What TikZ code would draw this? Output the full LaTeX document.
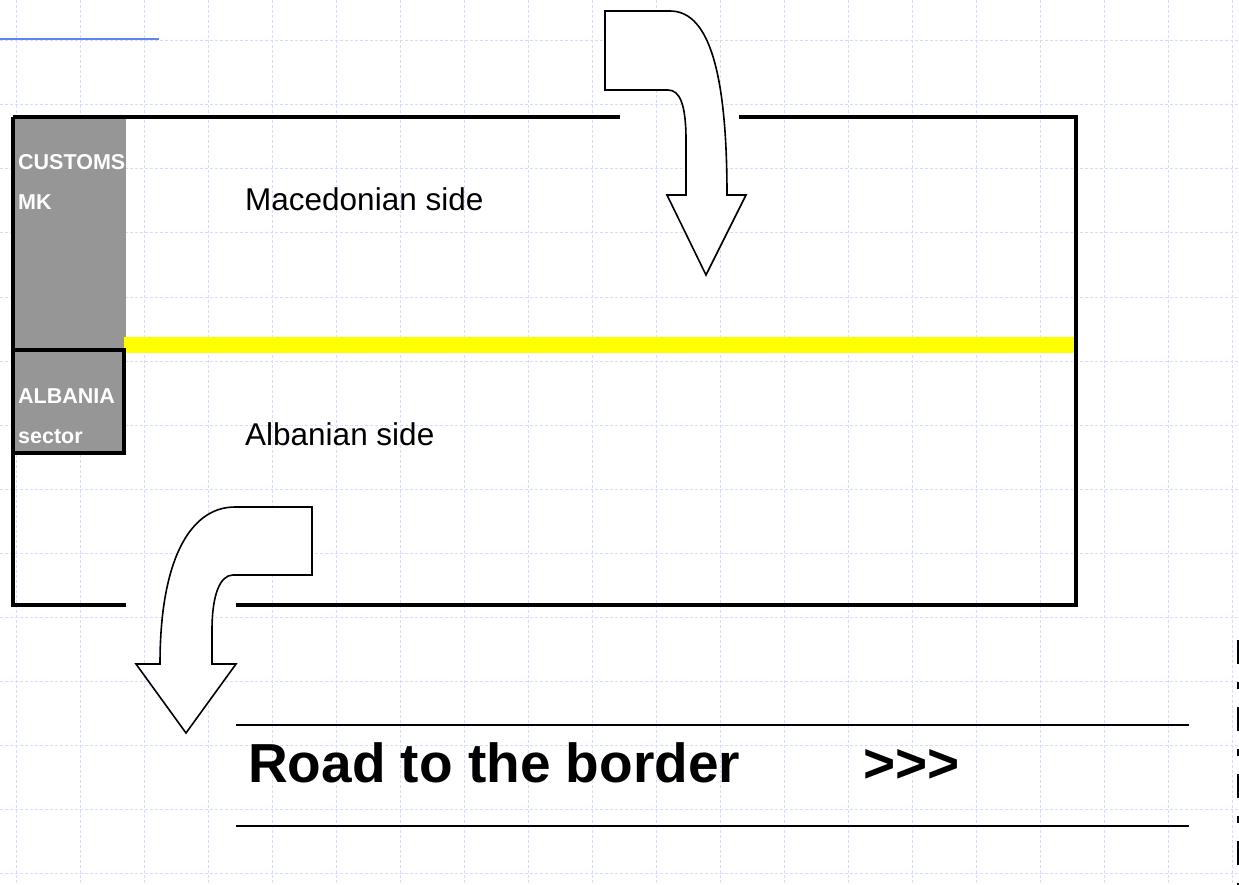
\documentclass[tikz,border=0pt]{standalone}
\usepackage{fontspec}
\setmainfont{Liberation Sans}
\usepackage{xcolor}
\usetikzlibrary{arrows.meta,positioning,calc}
\definecolor{bdgridblue}{RGB}{212,222,250}
\definecolor{bdblue}{RGB}{100,130,240}
\definecolor{bdgray}{RGB}{150,150,150}
\definecolor{bdyellow}{RGB}{255,255,0}
\tikzset{
bdgrid/.style={draw=bdgridblue,line width=1pt,dash pattern=on 3pt off 2pt},
bdlink/.style={draw=bdblue,line width=2pt},
bdwall/.style={line width=4pt},
bdroad/.style={line width=2pt},
bdborder/.style={draw=bdyellow,line width=16pt},
bdcustoms/.style={fill=bdgray},
bdsector/.style={fill=bdgray,draw=black,line width=3.5pt},
bdturn/.style={fill=white,draw=black,line width=1.6pt,line join=miter},
bdmark/.style={line width=2pt,dash pattern=on 24pt off 18pt on 7pt off 18pt},
bdtag/.style={font=\bfseries\fontsize{21.5}{24}\selectfont,text=white,inner sep=0pt,anchor=base west},
bdside/.style={font=\fontsize{31.5}{36}\selectfont,inner sep=0pt,anchor=base west},
bdtitle/.style={font=\bfseries\fontsize{55}{60}\selectfont,inner sep=0pt,anchor=base west}
}
\begin{document}
\begin{tikzpicture}[
x=1pt,
y=-1pt
]
\useasboundingbox (0,0) rectangle (1239,885);
% background grid
\foreach \gx in {16,80,...,1232} \draw[bdgrid] (\gx,0) -- (\gx,885);
\foreach \gy in {41,105,...,873} \draw[bdgrid] (0,\gy) -- (1239,\gy);
\draw[bdlink] (0,39) -- (159,39);
% crossing area
\fill[bdcustoms] (13,117) rectangle (126,350);
\draw[bdborder] (124,345) -- (1074,345);
\draw[bdwall] (13,117) -- (620,117);
\draw[bdwall] (739,117) -- (1076,117) -- (1076,605) -- (236,605);
\draw[bdwall] (126,605) -- (13,605) -- (13,117);
\draw[bdsector] (13,350) rectangle (124,453);
% turning arrows
\draw[bdturn] (605,11) -- (670,11) .. controls (705,11) and (727,60) .. (727,195)
  -- (746,195) -- (706,275) -- (667,195) -- (686,195) -- (686,140)
  .. controls (686,105) and (680,90) .. (668,90) -- (605,90) -- cycle;
\draw[bdturn] (312,507) -- (235,507) .. controls (190,507) and (160,560) .. (160,664)
  -- (136,664) -- (186,733) -- (236,664) -- (212,664) -- (212,630)
  .. controls (212,595) and (220,575) .. (233,575) -- (312,575) -- cycle;
% road
\draw[bdroad] (236,725) -- (1189,725);
\draw[bdroad] (236,826) -- (1189,826);
\draw[bdmark] (1238,640) -- (1238,885);
% labels
\node[bdtag] (customs) at (18,170) {CUSTOMS};
\node[bdtag] (mk) at (18,210) {MK};
\node[bdtag] (albania) at (18,403) {ALBANIA};
\node[bdtag] (sector) at (18,443) {sector};
\node[bdside] (macside) at (245,211) {Macedonian side};
\node[bdside] (albside) at (245,445) {Albanian side};
\node[bdtitle] (road) at (248,782) {Road to the border};
\node[bdtitle] (ahead) at (863,782) {>\kern0pt>\kern0pt>};
\end{tikzpicture}
\end{document}
